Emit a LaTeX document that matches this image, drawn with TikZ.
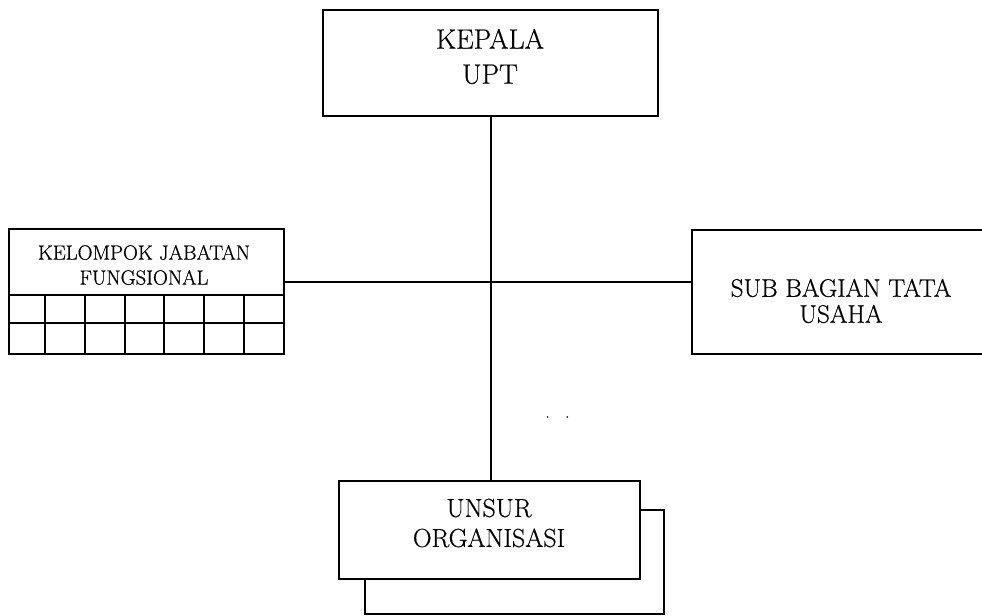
\documentclass[tikz,border=0pt]{standalone}
\usepackage{fontspec}
\setmainfont{Latin Modern Roman}[FakeBold=0.6]
\begin{document}
\begin{tikzpicture}[x=0.75pt,y=-0.75pt,
  boxline/.style={draw=black,line width=1.5pt},
  conn/.style={draw=black,line width=1.5pt},
  cellline/.style={draw=black,line width=1.5pt},
  lbl/.style={align=center,inner sep=0pt,text=black}]
\useasboundingbox (0,0) rectangle (982,615);
\clip (0,0) rectangle (982,615);
% boxes
\node[boxline,fill=white,anchor=north west,minimum width=335*0.75pt,minimum height=106*0.75pt,inner sep=0pt] (kepala) at (322,9) {};
\node[boxline,fill=white,anchor=north west,minimum width=275*0.75pt,minimum height=125*0.75pt,inner sep=0pt] (jab) at (8,228) {};
\node[boxline,fill=white,anchor=north west,minimum width=300*0.75pt,minimum height=124*0.75pt,inner sep=0pt] (sub) at (691,229) {};
\node[boxline,fill=white,anchor=north west,minimum width=299*0.75pt,minimum height=104*0.75pt,inner sep=0pt] (unsurback) at (364,509) {};
\node[boxline,fill=white,anchor=north west,minimum width=301*0.75pt,minimum height=98*0.75pt,inner sep=0pt] (unsur) at (338,480) {};
% grid of the functional group box
\draw[cellline] (8,295) -- (283,295);
\draw[cellline] (8,323) -- (283,323);
\foreach \cx in {45,85,125,164,204,244}{\draw[cellline] (\cx,295) -- (\cx,353);}
% texts
\node[lbl,font=\fontsize{21pt}{26.25pt}\selectfont] (tkepala) at (490,56.5) {KEPALA\\UPT};
\node[lbl,font=\fontsize{15.5pt}{18.75pt}\selectfont] (tjab) at (144,265) {KELOMPOK JABATAN\\FUNGSIONAL};
\node[lbl,font=\fontsize{19pt}{19.5pt}\selectfont] (tsub) at (841,301) {SUB BAGIAN TATA\\USAHA};
\node[lbl,font=\fontsize{19.5pt}{22.5pt}\selectfont] (tunsur) at (489,523) {UNSUR\\ORGANISASI};
\node[lbl,font=\fontsize{12pt}{14pt}\selectfont] (dots) at (557.5,417) {.\hspace{11.5pt}.};
% connectors
\coordinate (junc) at (490,282);
\draw[conn] (kepala.south) -- (unsur.north -| kepala.south);
\draw[conn] (junc -| jab.east) -- (junc -| sub.west);
\end{tikzpicture}
\end{document}
